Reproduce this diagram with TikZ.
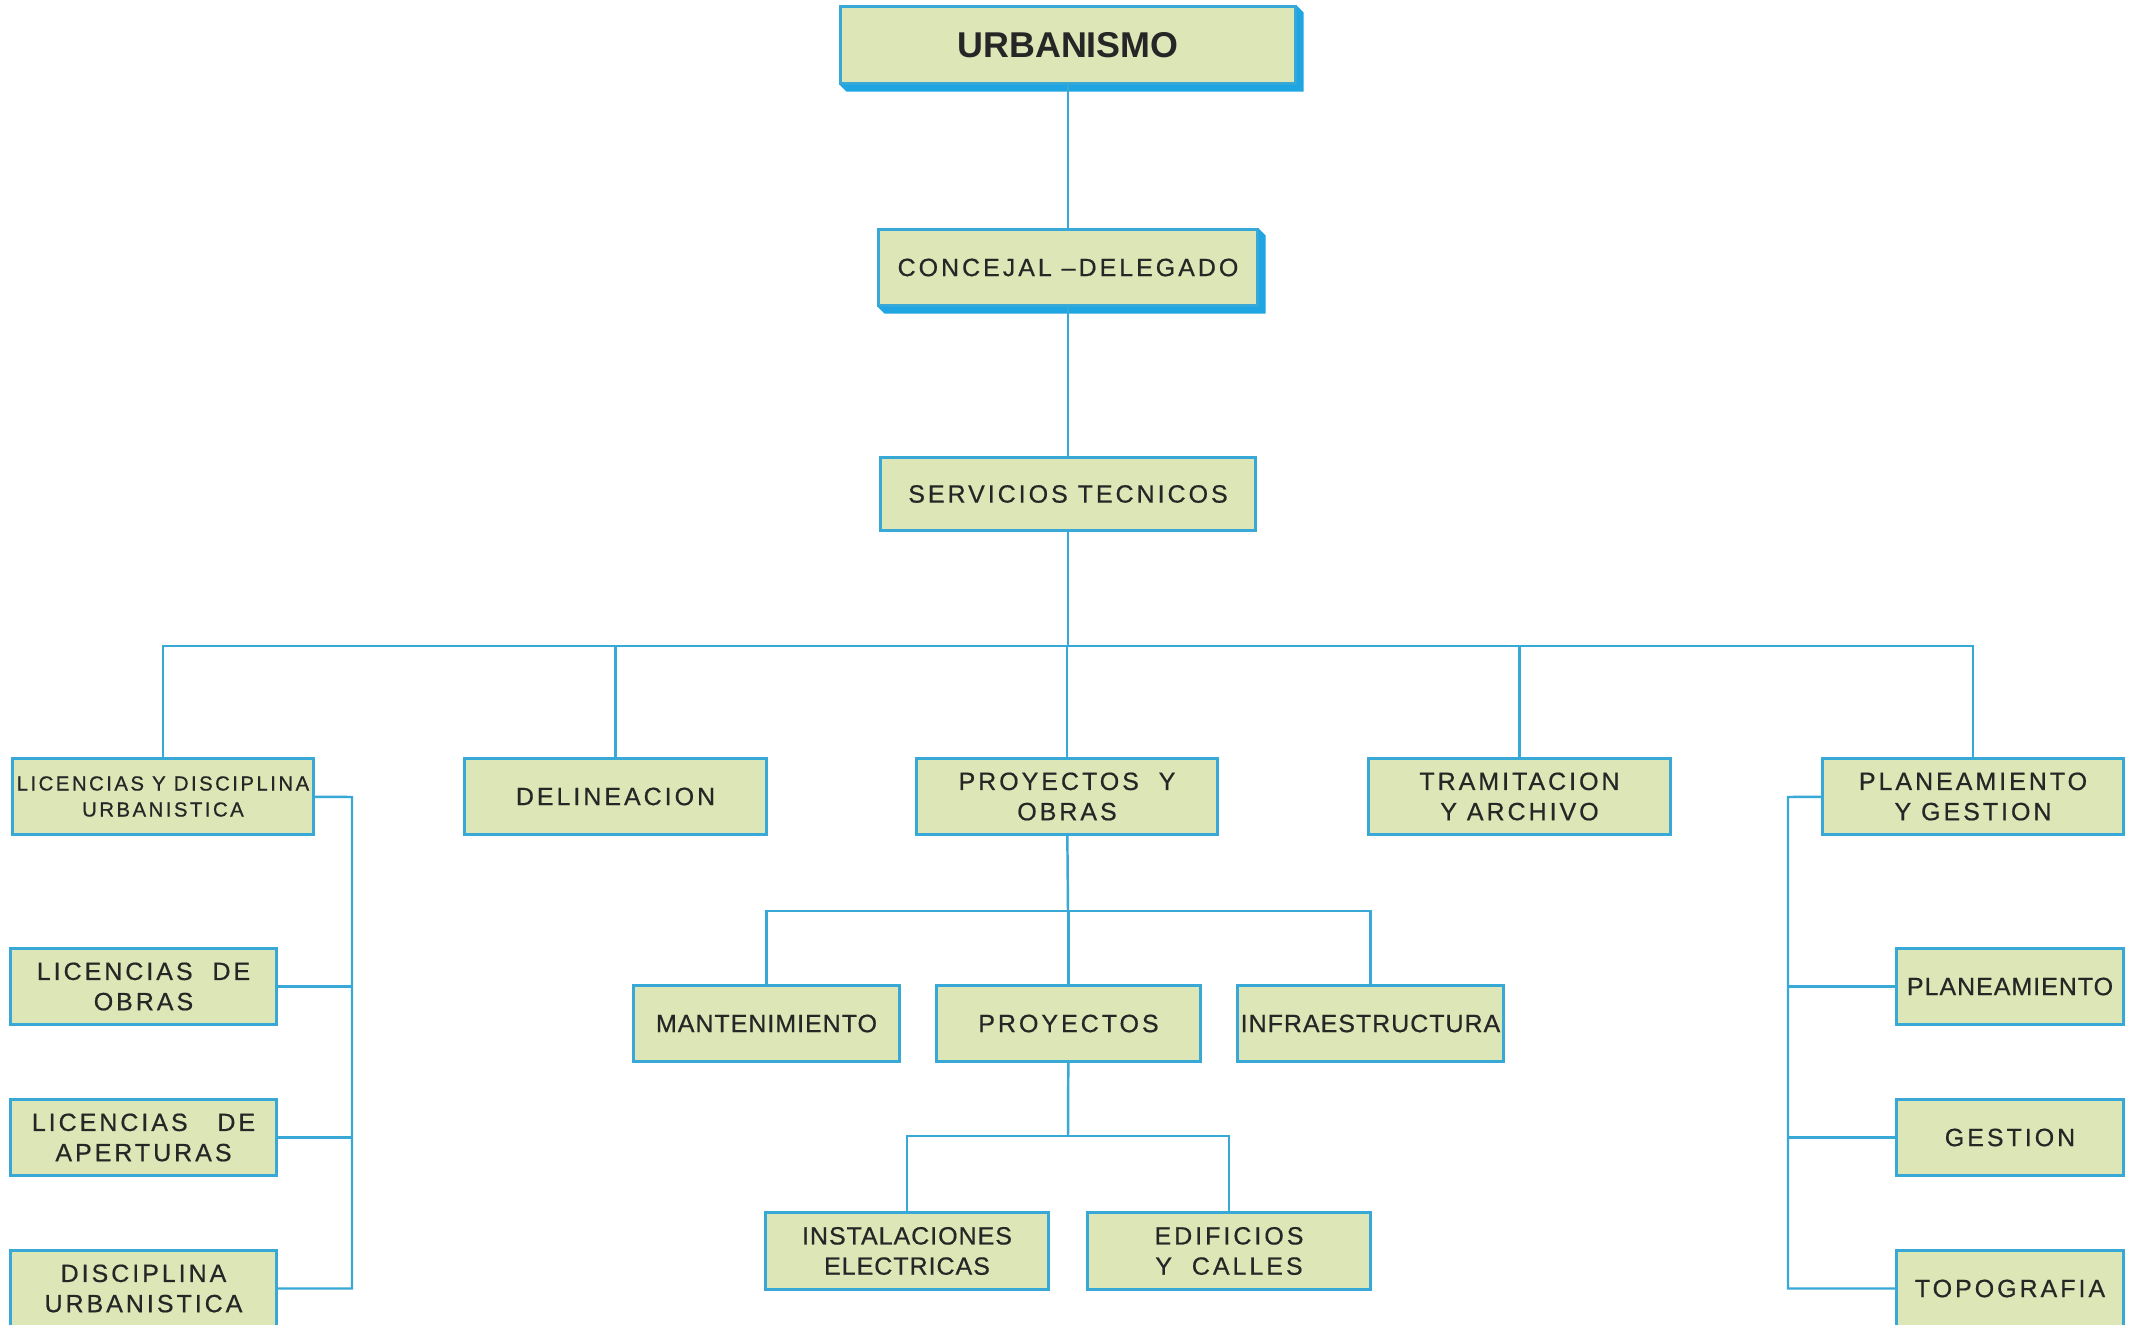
\documentclass[tikz,border=0pt]{standalone}
\usepackage{fontspec}
\setmainfont{Liberation Sans}
\newfontfamily\letfont[LetterSpace=12, FakeBold=0.6]{Liberation Sans}
\newfontfamily\letfonttight[LetterSpace=4, FakeBold=0.6]{Liberation Sans}
\definecolor{orgblue}{HTML}{38A8D6}
\definecolor{orgshade}{HTML}{1FA6E2}
\definecolor{orgfill}{HTML}{DDE6B7}

\tikzset{
  unit/.style={draw=orgblue, fill=orgfill, line width=0.85pt, align=center,
    inner sep=0pt, text=black!85, minimum width=3.01cm, minimum height=0.75cm,
    font=\letfont\fontsize{7.1}{8.6}\selectfont},
  tight/.style={font=\letfonttight\fontsize{7.1}{8.6}\selectfont},
  small/.style={font=\letfont\fontsize{5.8}{7.4}\selectfont},
  link/.style={orgblue, line width=0.7pt},
}

\begin{document}
\begin{tikzpicture}[x=0.01cm, y=-0.01cm]
  \useasboundingbox[fill=white] (0,0) rectangle (2138,1325);
  \def\d{7} % depth of the raised edge
  % head of the chart
  \node[unit, minimum width=4.54cm, minimum height=0.76cm,
    font=\bfseries\fontsize{10.2}{12}\selectfont] (urb) at (1068,45) {URBANISMO};
  \node[unit, minimum width=3.78cm] (conc) at (1068,267.5) {CONCEJAL \textendash DELEGADO};
  \node[unit, minimum width=3.75cm, minimum height=0.72cm] (serv) at (1068,494) {SERVICIOS TECNICOS};
  % raised edges
  \foreach \n in {urb,conc}{
    \fill[orgshade] (\n.north east) -- ++(\d,\d) -- ([shift={(\d,\d)}]\n.south east)
      -- ([shift={(\d,\d)}]\n.south west) -- (\n.south west) -- (\n.south east) -- cycle;
  }
  % sections
  \node[unit, small] (lic) at (163,796.5) {LICENCIAS Y DISCIPLINA\\URBANISTICA};
  \node[unit] (del) at (615.5,796.5) {DELINEACION};
  \node[unit] (proy) at (1067,796.5) {PROYECTOS\ \ Y\\OBRAS};
  \node[unit] (tram) at (1519.5,796.5) {TRAMITACION\\Y ARCHIVO};
  \node[unit] (plan) at (1973,796.5) {PLANEAMIENTO\\Y GESTION};
  % licencias
  \node[unit, minimum width=2.65cm] (lobr) at (143.5,986.5) {LICENCIAS\ \ DE\\OBRAS};
  \node[unit, minimum width=2.65cm] (lape) at (143.5,1137.5) {LICENCIAS\ \ \ DE\\APERTURAS};
  \node[unit, minimum width=2.65cm] (disc) at (143.5,1288.5) {DISCIPLINA\\URBANISTICA};
  % proyectos
  \node[unit, tight, minimum width=2.65cm] (mant) at (766.5,1023.5) {MANTENIMIENTO};
  \node[unit, minimum width=2.63cm] (proyt) at (1068.5,1023.5) {PROYECTOS};
  \node[unit, tight, minimum width=2.65cm] (infra) at (1370.5,1023.5) {INFRAESTRUCTURA};
  \node[unit, tight, minimum width=2.82cm, minimum height=0.76cm] (inst) at (907,1251) {INSTALACIONES\\ELECTRICAS};
  \node[unit, minimum width=2.82cm, minimum height=0.76cm] (edif) at (1229,1251) {EDIFICIOS\\Y\ \ CALLES};
  % planeamiento
  \node[unit, tight, minimum width=2.26cm] (planm) at (2010,986.5) {PLANEAMIENTO};
  \node[unit, minimum width=2.26cm] (gest) at (2010,1137.5) {GESTION};
  \node[unit, minimum width=2.26cm] (topo) at (2010,1288.5) {TOPOGRAFIA};

  % connectors
  \coordinate (bus1) at (1068,646);
  \coordinate (bus2) at (1068,911);
  \coordinate (bus3) at (1068,1136);
  \coordinate (lsp) at (352,797);
  \coordinate (rsp) at (1788,797);
  \draw[link] (urb) -- (conc);
  \draw[link] (conc) -- (serv);
  \draw[link] (serv) -- (bus1);
  \foreach \n in {lic,del,proy,tram,plan}
    \draw[link] (bus1) -| (\n);
  \draw[link] (proy) -- (bus2);
  \foreach \n in {mant,proyt,infra}
    \draw[link] (bus2) -| (\n);
  \draw[link] (proyt) -- (bus3);
  \foreach \n in {inst,edif}
    \draw[link] (bus3) -| (\n);
  \draw[link] (lic) -- (lsp) |- (disc);
  \foreach \n in {lobr,lape}
    \draw[link] (\n) -- (\n -| lsp);
  \draw[link] (plan) -- (rsp) |- (topo);
  \foreach \n in {planm,gest}
    \draw[link] (\n) -- (\n -| rsp);
\end{tikzpicture}
\end{document}
